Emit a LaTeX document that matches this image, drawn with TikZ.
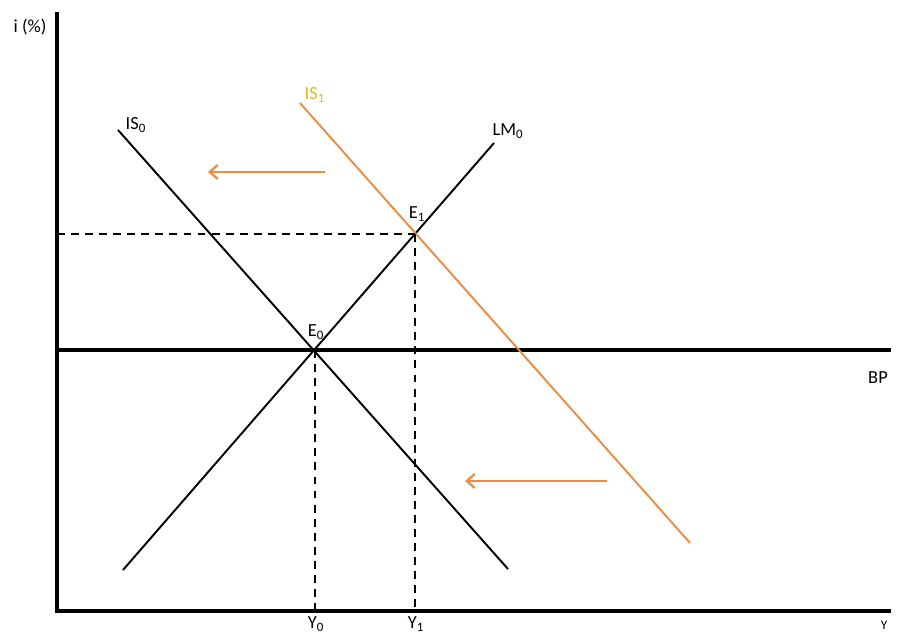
\documentclass[tikz,border=0pt]{standalone}
\usepackage{fontspec}
\setmainfont{Carlito}
\usetikzlibrary{arrows.meta}
\definecolor{shiftorange}{RGB}{232,140,70}
\definecolor{isgold}{RGB}{226,182,40}

\begin{document}
\begin{tikzpicture}[
  x=0.02cm, y=-0.02cm,
  axis/.style={line width=2pt, line join=miter},
  bpline/.style={line width=1.8pt},
  curve/.style={line width=1.1pt},
  newcurve/.style={line width=1.1pt, draw=shiftorange},
  guide/.style={line width=1pt, dash pattern=on 4.5pt off 3.5pt},
  shiftarr/.style={-{Straight Barb[length=1.6mm, width=2.8mm]}, line width=1.3pt, draw=shiftorange},
  lbl/.style={font=\fontsize{10.5}{12}\selectfont, inner sep=1pt}
]
\useasboundingbox (0,0) rectangle (902,634);

% axes
\coordinate (ytop) at (57,12);
\coordinate (orig) at (57,611);
\coordinate (xend) at (891,611);
\draw[axis] (ytop) -- (orig) -- (xend);
\node[lbl] (ilab) at (30,27) {i (\%)};
\node[lbl, font=\fontsize{7.5}{8}\selectfont] (ylab) at (884,625) {Y};

% BP line
\coordinate (bpl) at (57,350);
\coordinate (bpr) at (891,350);
\draw[bpline] (bpl) -- (bpr);
\node[lbl] (bplab) at (878,378) {BP};

% equilibria
\coordinate (e0) at (315,350);
\coordinate (e1) at (415,234);
\coordinate (y0) at (315,611);
\coordinate (y1) at (415,611);
\coordinate (i1) at (57,234);

% curves
\coordinate (is0a) at (118,130);
\coordinate (is0b) at (508,569);
\coordinate (lm0a) at (123,570);
\coordinate (lm0b) at (494,143);
\coordinate (is1a) at (300,103);
\coordinate (is1b) at (690,543);
\draw[curve] (is0a) -- (is0b);
\draw[curve] (lm0a) -- (lm0b);
\draw[newcurve] (is1a) -- (is1b);

\node[lbl] (is0lab) at (136,125) {IS\textsubscript{0}};
\node[lbl, text=isgold] (is1lab) at (315,95) {IS\textsubscript{1}};
\node[lbl] (lm0lab) at (508,131) {LM\textsubscript{0}};
\node[lbl] (e0lab) at (316,332) {E\textsubscript{0}};
\node[lbl] (e1lab) at (417,214) {E\textsubscript{1}};

% guides
\draw[guide] (i1) -- (e1);
\draw[guide] (e0) -- (y0);
\draw[guide] (e1) -- (y1);
\node[lbl] (y0lab) at (316,624) {Y\textsubscript{0}};
\node[lbl] (y1lab) at (416,624) {Y\textsubscript{1}};

% shift arrows
\coordinate (s1a) at (325,172);
\coordinate (s1b) at (208,172);
\coordinate (s2a) at (607,481);
\coordinate (s2b) at (465,481);
\draw[shiftarr] (s1a) -- (s1b);
\draw[shiftarr] (s2a) -- (s2b);
\end{tikzpicture}
\end{document}
